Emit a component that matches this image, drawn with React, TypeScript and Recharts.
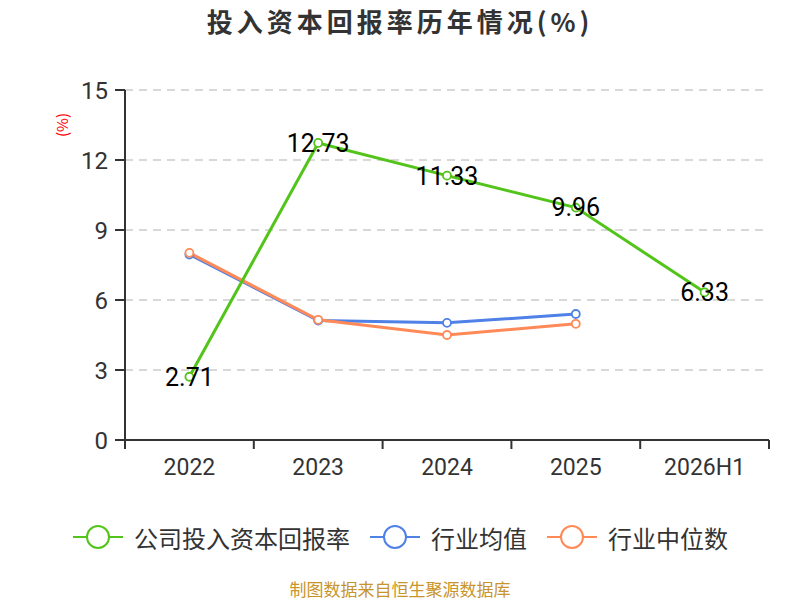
import { CartesianGrid, LabelList, Line, LineChart, XAxis, YAxis } from "recharts";

const categories = ["2022", "2023", "2024", "2025", "2026H1"];
const companyRoic = [2.71, 12.73, 11.33, 9.96, 6.33];
const industryMean = [7.95, 5.12, 5.02, 5.4, null];
const industryMedian = [8.02, 5.15, 4.5, 4.98, null];
const yTicks = [0, 3, 6, 9, 12, 15];

const GREEN = "#52c41a";
const BLUE = "#4f81e6";
const ORANGE = "#ff8a57";
const CJK = "'Noto Sans CJK SC', 'Noto Sans', sans-serif";
const NUM = "Roboto, 'Noto Sans', sans-serif";

const data = categories.map((name, i) => ({
  x: i + 0.5,
  name,
  company: companyRoic[i],
  mean: industryMean[i],
  median: industryMedian[i],
}));

// band edges get a tick line, band centres get the category label
const xTicks = Array.from({ length: categories.length * 2 + 1 }, (_, i) => i / 2);

const XTick = (props: any) => {
  const { x, y, payload } = props;
  const v = payload.value as number;
  if (Number.isInteger(v)) {
    return <line x1={x} x2={x} y1={y} y2={y + 9} stroke="#333" strokeWidth={2} />;
  }
  return (
    <text x={x} y={y + 35} textAnchor="middle" fill="#333" fontSize={23} fontFamily={NUM}>
      {categories[Math.floor(v)]}
    </text>
  );
};

const dot = (color: string) => ({ r: 4, fill: "#fff", stroke: color, strokeWidth: 1.8 });

const legendItems = [
  { label: "公司投入资本回报率", color: GREEN, left: 73 },
  { label: "行业均值", color: BLUE, left: 370 },
  { label: "行业中位数", color: ORANGE, left: 547 },
];

export default function App() {
  return (
    <div style={{ position: "absolute", left: 0, top: 0, width: 800, height: 600, background: "#fff", fontFamily: CJK }}>
      <div
        style={{
          position: "absolute",
          top: 2,
          width: 800,
          textAlign: "center",
          fontSize: 26,
          letterSpacing: 4,
          fontWeight: 700,
          color: "#333",
        }}
      >
        投入资本回报率历年情况(%)
      </div>
      <div
        style={{
          position: "absolute",
          left: 48,
          top: 113,
          width: 28,
          height: 24,
          color: "#ff0000",
          fontSize: 15,
          transform: "rotate(-90deg)",
          textAlign: "center",
          lineHeight: "24px",
        }}
      >
        (%)
      </div>
      <LineChart width={800} height={600} data={data} margin={{ top: 90, right: 31, bottom: 120, left: 65 }}>
        <CartesianGrid vertical={false} stroke="#ccc" strokeDasharray="8 6" strokeWidth={1.5} />
        <XAxis
          dataKey="x"
          type="number"
          domain={[0, categories.length]}
          ticks={xTicks}
          interval={0}
          height={40}
          tick={<XTick />}
          tickLine={false}
          tickSize={0}
          tickMargin={0}
          axisLine={{ stroke: "#333", strokeWidth: 2 }}
        />
        <YAxis
          domain={[0, 15]}
          ticks={yTicks}
          interval={0}
          width={60}
          tickSize={10}
          tickMargin={7}
          tick={{ fill: "#333", fontSize: 24, fontFamily: NUM }}
          tickLine={{ stroke: "#333", strokeWidth: 2 }}
          axisLine={{ stroke: "#333", strokeWidth: 2 }}
        />
        <Line dataKey="mean" stroke={BLUE} strokeWidth={3} dot={dot(BLUE)} activeDot={false} isAnimationActive={false} />
        <Line dataKey="median" stroke={ORANGE} strokeWidth={3} dot={dot(ORANGE)} activeDot={false} isAnimationActive={false} />
        <Line dataKey="company" stroke={GREEN} strokeWidth={3} dot={dot(GREEN)} activeDot={false} isAnimationActive={false}>
          <LabelList dataKey="company" position="center" fill="#000" fontSize={25} fontFamily={NUM} />
        </Line>
      </LineChart>
      {legendItems.map((item) => (
        <div key={item.label} style={{ position: "absolute", left: item.left, top: 520, height: 34, display: "flex", alignItems: "center" }}>
          <svg width={50} height={26}>
            <line x1={0} x2={50} y1={13} y2={13} stroke={item.color} strokeWidth={2} />
            <circle cx={25} cy={13} r={11} fill="#fff" stroke={item.color} strokeWidth={2} />
          </svg>
          <span style={{ marginLeft: 11, fontSize: 24, color: "#333" }}>{item.label}</span>
        </div>
      ))}
      <div
        style={{
          position: "absolute",
          top: 578,
          width: 800,
          height: 21,
          lineHeight: "21px",
          textAlign: "center",
          fontSize: 17,
          color: "#c8952c",
        }}
      >
        制图数据来自恒生聚源数据库
      </div>
    </div>
  );
}
